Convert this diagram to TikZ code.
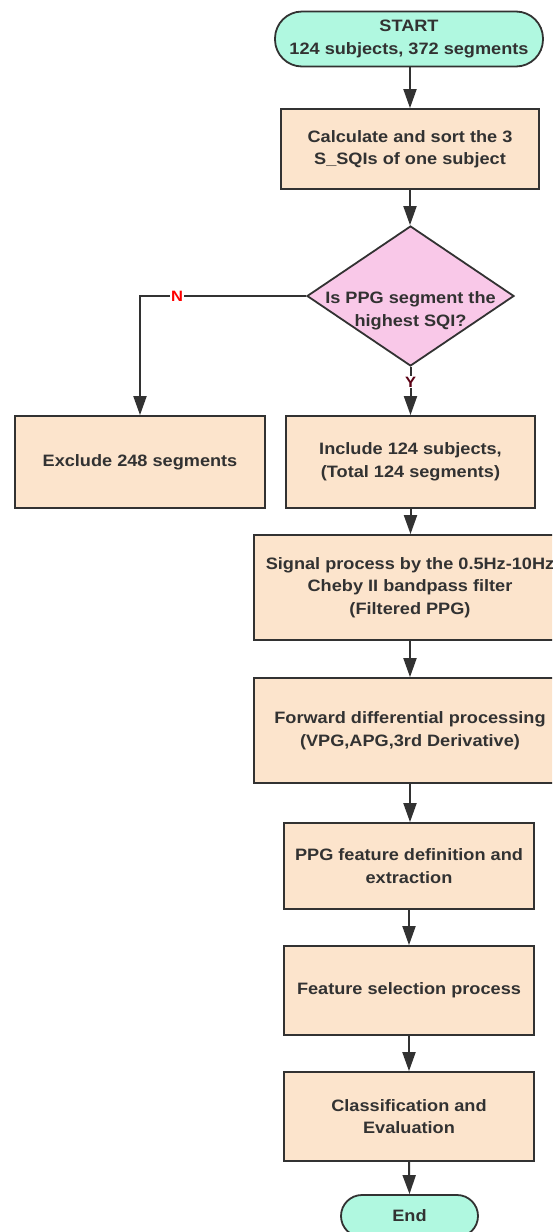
\documentclass[tikz,border=0pt]{standalone}
\usepackage{fontspec}
\newfontfamily\flowfont[FakeStretch=1.1]{Liberation Sans}
\usetikzlibrary{arrows.meta,shapes.geometric}
\definecolor{boxfill}{RGB}{252,228,204}
\definecolor{termfill}{RGB}{176,248,224}
\definecolor{diafill}{RGB}{249,200,232}
\definecolor{edge}{RGB}{50,50,50}
\definecolor{txt}{RGB}{50,50,50}
\definecolor{ylab}{RGB}{90,0,20}
\tikzset{
  base/.style={draw=edge, line width=1.8pt, text=txt, align=center,
    font=\flowfont\bfseries\fontsize{16.5}{22.5}\selectfont, inner sep=0pt},
  procbox/.style={base, rectangle, fill=boxfill},
  termbox/.style={base, rectangle, rounded corners=21pt, fill=termfill},
  decbox/.style={draw=edge, line width=1.8pt, diamond, fill=diafill, inner sep=0pt},
  conn/.style={draw=edge, line width=2pt, -{Triangle[length=19pt,width=13pt]}},
  lbl/.style={font=\flowfont\bfseries\fontsize{15}{18}\selectfont, fill=white, inner sep=1pt}
}
\begin{document}
\begin{tikzpicture}[x=1pt,y=-1pt]
\useasboundingbox (0,0) rectangle (552,1232);
\clip (0,0) rectangle (552,1232);
\fill[white] (0,0) rectangle (552,1232);
\node[termbox, minimum width=268pt, minimum height=55pt, rounded corners=27pt] (start) at (409,39) {START\\124 subjects, 372 segments};
\node[procbox, minimum width=258pt, minimum height=80pt] (calc) at (410,149) {Calculate and sort the 3\\S\_SQIs of one subject};
\node[decbox, minimum width=207pt, minimum height=140pt] (dec) at (410.5,296) {};
\node[base, draw=none, fill=none] (dectext) at (410.5,311) {Is PPG segment the\\highest SQI?};
\node[procbox, minimum width=250pt, minimum height=92pt] (excl) at (140,462) {Exclude 248 segments};
\node[procbox, minimum width=249pt, minimum height=92pt] (incl) at (410.5,462) {Include 124 subjects,\\(Total 124 segments)};
\node[procbox, minimum width=312pt, minimum height=105pt] (sig) at (410,587.5) {Signal process by the 0.5Hz-10Hz\\Cheby II bandpass filter\\(Filtered PPG)};
\node[procbox, minimum width=312pt, minimum height=105pt] (fwd) at (410,730.5) {Forward differential processing\\(VPG,APG,3rd Derivative)};
\node[procbox, minimum width=250pt, minimum height=86pt] (ppg) at (409,866) {PPG feature definition and\\extraction};
\node[procbox, minimum width=250pt, minimum height=89pt] (fsel) at (409,990.5) {Feature selection process};
\node[procbox, minimum width=250pt, minimum height=89pt] (cls) at (409,1116.5) {Classification and\\Evaluation};
\node[termbox, minimum width=137pt, minimum height=42pt] (end) at (409.5,1216) {End};
\coordinate (nbend) at (140,296);
\draw[conn] (start.south -| calc.north) -- (calc.north);
\draw[conn] (calc.south) -- (calc.south |- dec.north);
\draw[conn] (dec.west) -- (nbend) -- (excl.north);
\node[lbl, text=red] (nlab) at (177,296) {N};
\draw[conn] (dec.south) -- (incl.north);
\node[lbl, text=ylab] (ylabn) at (410.5,382) {Y};
\draw[conn] (incl.south) -- (incl.south |- sig.north);
\draw[conn] (sig.south) -- (fwd.north);
\draw[conn] (fwd.south) -- (fwd.south |- ppg.north);
\draw[conn] (ppg.south) -- (fsel.north);
\draw[conn] (fsel.south) -- (cls.north);
\draw[conn] (cls.south) -- (end.north);
\end{tikzpicture}
\end{document}
